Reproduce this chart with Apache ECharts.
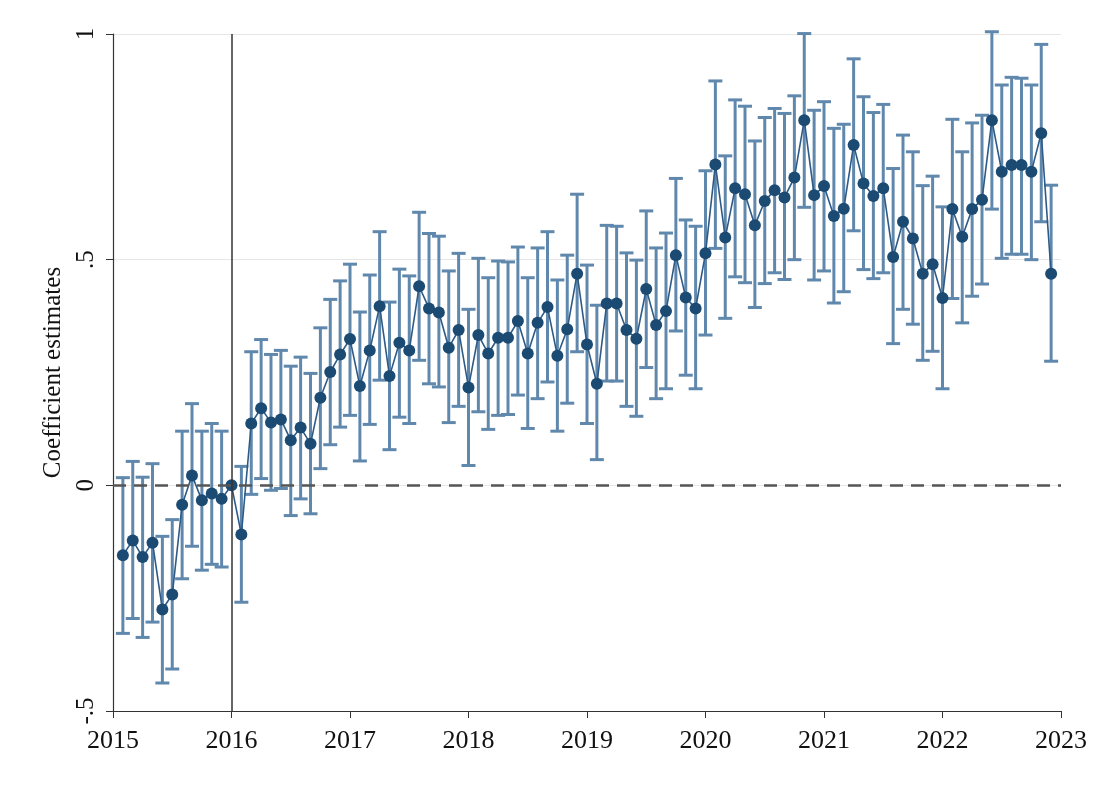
<!DOCTYPE html>
<html>
<head>
<meta charset="utf-8">
<script src="https://cdn.jsdelivr.net/npm/echarts@6/dist/echarts.min.js"></script>
<style>
  html, body { margin: 0; padding: 0; background: #fff; }
  #chart { width: 1093px; height: 787px; }
</style>
</head>
<body>
<div id="chart"></div>
<script>
// monthly coefficients, Feb 2015 .. Dec 2022 (Jan 2016 = reference month)
var startYear = 2015;
var estimates = [
  -0.155,-0.122,-0.159,-0.127,-0.275,-0.242,-0.043,0.022,-0.033,-0.018,-0.030,0,
  -0.109,0.137,0.171,0.139,0.146,0.100,0.128,0.092,0.194,0.251,0.290,0.324,
  0.220,0.299,0.397,0.242,0.316,0.299,0.441,0.392,0.383,0.305,0.344,0.217,
  0.333,0.292,0.327,0.327,0.364,0.292,0.360,0.395,0.287,0.346,0.469,0.312,
  0.225,0.403,0.403,0.344,0.325,0.435,0.355,0.386,0.510,0.416,0.392,0.514,
  0.711,0.549,0.658,0.645,0.576,0.630,0.654,0.638,0.682,0.809,0.643,0.663,
  0.597,0.613,0.754,0.669,0.641,0.658,0.506,0.584,0.547,0.469,0.490,0.415,
  0.612,0.551,0.612,0.633,0.809,0.695,0.710,0.710,0.695,0.780,0.469
];
var upper = [
  0.017,0.053,0.018,0.048,-0.113,-0.076,0.120,0.181,0.120,0.137,0.120,0,
  0.042,0.296,0.323,0.290,0.299,0.264,0.284,0.248,0.349,0.412,0.453,0.490,
  0.384,0.466,0.562,0.406,0.479,0.464,0.605,0.558,0.552,0.475,0.514,0.390,
  0.503,0.460,0.497,0.495,0.528,0.460,0.526,0.562,0.455,0.510,0.645,0.488,
  0.399,0.576,0.574,0.515,0.499,0.608,0.526,0.559,0.680,0.588,0.574,0.697,
  0.896,0.730,0.854,0.840,0.763,0.815,0.835,0.824,0.863,1.001,0.831,0.850,
  0.791,0.800,0.945,0.861,0.826,0.844,0.702,0.776,0.739,0.664,0.685,0.617,
  0.811,0.739,0.803,0.820,1.005,0.887,0.904,0.902,0.887,0.977,0.665
];
var lower = [
  -0.328,-0.295,-0.337,-0.303,-0.438,-0.407,-0.207,-0.135,-0.188,-0.175,-0.181,0,
  -0.259,-0.020,0.015,-0.011,-0.007,-0.067,-0.030,-0.063,0.037,0.090,0.129,0.155,
  0.054,0.135,0.233,0.079,0.151,0.137,0.277,0.225,0.218,0.139,0.175,0.044,
  0.163,0.124,0.155,0.157,0.200,0.126,0.192,0.229,0.120,0.182,0.296,0.137,
  0.057,0.231,0.231,0.175,0.153,0.261,0.192,0.214,0.342,0.244,0.214,0.333,
  0.525,0.370,0.462,0.449,0.394,0.447,0.471,0.456,0.500,0.616,0.455,0.475,
  0.404,0.429,0.564,0.478,0.458,0.471,0.314,0.390,0.357,0.277,0.297,0.214,
  0.414,0.360,0.419,0.446,0.612,0.503,0.512,0.512,0.500,0.584,0.275
];
var yTickLabels = { '-0.5': '-.5', '0': '0', '0.5': '.5', '1': '1' };

// x position of each month (month 1 = Feb 2015)
var months = estimates.map(function (v, i) { return startYear + (i + 1) / 12; });

var pointData = months.map(function (m, i) { return [m, estimates[i]]; });
var ciData = months.map(function (m, i) { return [m, lower[i], upper[i]]; });

var chart = echarts.init(document.getElementById('chart'));
var serif = '"Liberation Serif", "DejaVu Serif", serif';

var option = {
  backgroundColor: '#fff',
  animation: false,
  grid: { left: 113, right: 32, top: 34, bottom: 76 },
  xAxis: {
    type: 'value',
    min: 2015, max: 2023, interval: 1,
    axisLine: { show: true, onZero: false, lineStyle: { color: '#333', width: 1.2 } },
    axisTick: { show: true, length: 7, lineStyle: { color: '#333' } },
    axisLabel: {
      color: '#111', fontFamily: serif, fontSize: 26, margin: 17,
      formatter: function (v) { return String(v); }
    },
    splitLine: { show: false }
  },
  yAxis: {
    type: 'value',
    min: -0.5, max: 1, interval: 0.5,
    name: 'Coefficient estimates',
    nameLocation: 'middle',
    nameRotate: 90,
    nameGap: 47,
    nameTextStyle: { color: '#111', fontFamily: serif, fontSize: 25 },
    axisLine: { show: true, onZero: false, lineStyle: { color: '#333', width: 1.2 } },
    axisTick: { show: true, length: 7, lineStyle: { color: '#333' } },
    axisLabel: {
      color: '#111', fontFamily: serif, fontSize: 25, rotate: 90, margin: 14,
      formatter: function (v) { return yTickLabels[String(v)] || String(v); }
    },
    splitLine: { show: true, lineStyle: { color: '#e6e6e6', width: 1.2 } }
  },
  series: [
    {
      type: 'custom',
      name: 'ci',
      clip: false,
      data: ciData,
      z: 2,
      renderItem: function (params, api) {
        var x = api.value(0), lo = api.value(1), hi = api.value(2);
        if (lo === hi) return null;
        var pLo = api.coord([x, lo]);
        var pHi = api.coord([x, hi]);
        var w = 7;
        var style = { stroke: '#6088ad', lineWidth: 3 };
        return {
          type: 'group',
          children: [
            { type: 'line', shape: { x1: pLo[0], y1: pLo[1], x2: pHi[0], y2: pHi[1] }, style: style },
            { type: 'line', shape: { x1: pHi[0] - w, y1: pHi[1], x2: pHi[0] + w, y2: pHi[1] }, style: style },
            { type: 'line', shape: { x1: pLo[0] - w, y1: pLo[1], x2: pLo[0] + w, y2: pLo[1] }, style: style }
          ]
        };
      }
    },
    {
      type: 'line',
      name: 'estimate',
      data: pointData,
      z: 3,
      symbol: 'circle',
      symbolSize: 12,
      lineStyle: { color: '#2d5a86', width: 1.6 },
      itemStyle: { color: '#1b4a73' },
      markLine: {
        silent: true,
        symbol: 'none',
        label: { show: false },
        data: [
          { yAxis: 0, lineStyle: { color: '#555', width: 2.5, type: [13, 8] } },
          { xAxis: 2016, lineStyle: { color: '#333', width: 1.5, type: 'solid' } }
        ]
      }
    }
  ]
};

chart.setOption(option);
</script>
</body>
</html>
